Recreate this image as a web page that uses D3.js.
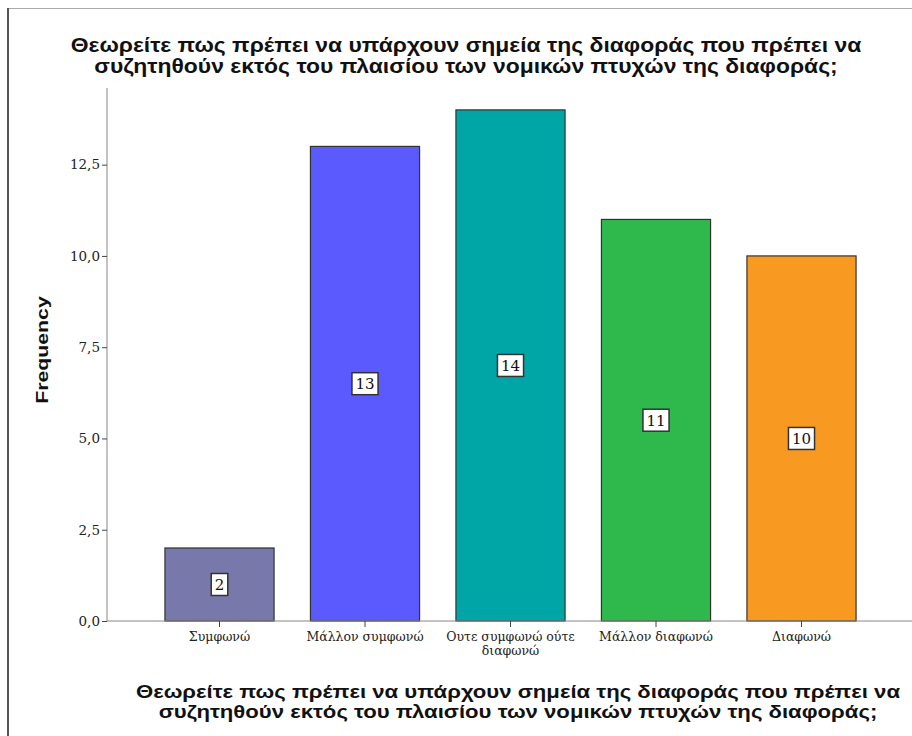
<!DOCTYPE html>
<html><head><meta charset="utf-8">
<script src="https://cdn.jsdelivr.net/npm/d3@7"></script>
<style>body{margin:0;background:#fff}</style>
</head><body>
<svg id="c" width="912" height="736"></svg>
<script>
const titleLines = ["Θεωρείτε πως πρέπει να υπάρχουν σημεία της διαφοράς που πρέπει να","συζητηθούν εκτός του πλαισίου των νομικών πτυχών της διαφοράς;"];
const categories = ["Συμφωνώ","Μάλλον συμφωνώ","Ουτε συμφωνώ ούτε διαφωνώ","Μάλλον διαφωνώ","Διαφωνώ"];
const categoryLines = [["Συμφωνώ"],["Μάλλον συμφωνώ"],["Ουτε συμφωνώ ούτε","διαφωνώ"],["Μάλλον διαφωνώ"],["Διαφωνώ"]];
const values = [2,13,14,11,10];
const colors = ["#7878aa","#5a5aff","#00a6a6","#2fb84c","#f89a22"];
const yTicks = [0,2.5,5,7.5,10,12.5];
const yLabel = "Frequency";

const svg = d3.select("#c");
const SANS = "Liberation Sans, Arial, sans-serif";
const SERIF = "DejaVu Serif, serif";

// stretch text horizontally by a factor
function stretch(sel, f){
  sel.each(function(){
    const w = this.getComputedTextLength();
    d3.select(this).attr("textLength", w*f).attr("lengthAdjust","spacingAndGlyphs");
  });
}

// frame
svg.append("line").attr("x1",8).attr("x2",912).attr("y1",8.5).attr("y2",8.5).attr("stroke","#aaa");
svg.append("line").attr("x1",8).attr("x2",8).attr("y1",8).attr("y2",736).attr("stroke","#555").attr("stroke-width",2);

const x = d3.scaleBand().domain(categories).range([146.75,874.25]).paddingInner(0.25).paddingOuter(0.125);
const y = d3.scaleLinear().domain([0,14.6]).range([621,88]);

// title
const tt = svg.append("text").attr("x",466).attr("y",52).attr("text-anchor","middle")
  .attr("font-family",SANS).attr("font-weight","bold").attr("font-size",20).attr("fill","#111")
  .selectAll("tspan").data(titleLines).join("tspan").attr("x",466).attr("dy",(d,i)=>i?21:0).text(d=>d);
stretch(tt, 1.145);

// bars
svg.selectAll("rect.bar").data(values).join("rect").attr("class","bar")
  .attr("x",(d,i)=>x(categories[i])).attr("width",x.bandwidth())
  .attr("y",d=>y(d)).attr("height",d=>y(0)-y(d))
  .attr("fill",(d,i)=>colors[i]).attr("stroke","#333").attr("stroke-width",1.2);

// axes
const yAxis = d3.axisLeft(y).tickValues(yTicks).tickSize(5).tickFormat(d=>d3.format(".1f")(d).replace(".",","));
const gy = svg.append("g").attr("transform","translate(107,0)").call(yAxis);
gy.select(".domain").attr("d","M0,88V621").attr("stroke","#888");
gy.selectAll(".tick line").attr("stroke","#444");
gy.selectAll(".tick text").attr("font-family",SERIF).attr("font-size",13.5).attr("fill","#222").attr("x",-7);

const xAxis = d3.axisBottom(x).tickSize(6).tickFormat("");
const gx = svg.append("g").attr("transform","translate(0,621)").call(xAxis);
gx.select(".domain").attr("d","M107,0H912").attr("stroke","#888");
gx.selectAll(".tick line").attr("stroke","#444");
gx.selectAll(".tick").each(function(d,i){
  const t = d3.select(this).append("text").attr("fill","#222").attr("text-anchor","middle")
    .attr("font-family",SERIF).attr("font-size",12.5).attr("y",20);
  t.selectAll("tspan").data(categoryLines[i]).join("tspan").attr("x",0).attr("dy",(s,j)=>j?14:0).text(s=>s);
});

// value labels
values.forEach((v,i)=>{
  const cx = x(categories[i]) + x.bandwidth()/2, cy = y(v/2);
  const g = svg.append("g");
  const t = g.append("text").attr("x",cx).attr("y",cy+5.5).attr("text-anchor","middle")
    .attr("font-family",SERIF).attr("font-size",15).attr("fill","#111").text(v);
  const b = t.node().getBBox();
  g.insert("rect","text").attr("x",b.x-3.5).attr("y",cy-11).attr("width",b.width+7).attr("height",22)
    .attr("fill","#fff").attr("stroke","#333").attr("stroke-width",1.5);
});

// y label
const yl = svg.append("text").attr("transform","translate(48,350) rotate(-90)").attr("text-anchor","middle")
  .attr("font-family",SANS).attr("font-weight","bold").attr("font-size",17).attr("fill","#111").text(yLabel);
stretch(yl, 1.25);

// x label
const xl = svg.append("text").attr("x",518).attr("y",698).attr("text-anchor","middle")
  .attr("font-family",SANS).attr("font-weight","bold").attr("font-size",19).attr("fill","#111")
  .selectAll("tspan").data(titleLines).join("tspan").attr("x",518).attr("dy",(d,i)=>i?20:0).text(d=>d);
stretch(xl, 1.165);
</script>
</body></html>
